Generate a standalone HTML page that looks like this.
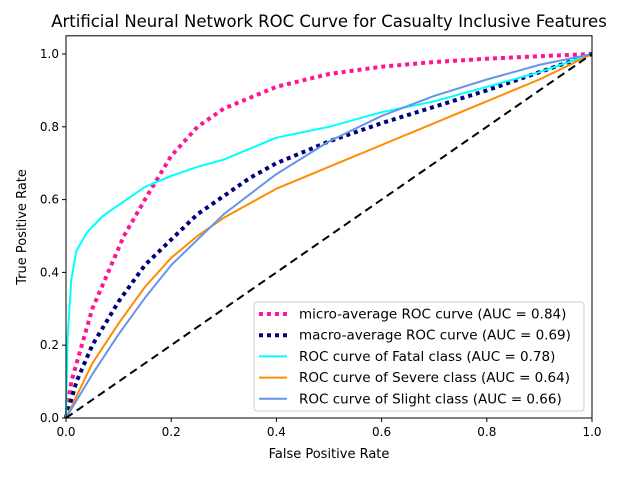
<!DOCTYPE html>
<html><head><meta charset="utf-8"><style>
body{margin:0;background:#fff;}
svg text{font-family:"DejaVu Sans","Liberation Sans",sans-serif;fill:#000;}
</style></head><body>
<svg width="640" height="476" viewBox="0 0 640 476">
<rect width="640" height="476" fill="#fff"/>
<g id="plot"></g>
<text x="329" y="27" font-size="16.5" text-anchor="middle">Artificial Neural Network ROC Curve for Casualty Inclusive Features</text>
<text x="329" y="458" font-size="13" text-anchor="middle">False Positive Rate</text>
<text transform="translate(26,227) rotate(-90)" font-size="13" text-anchor="middle">True Positive Rate</text>
</svg>
<script>
const xTicks=[0,0.2,0.4,0.6,0.8,1.0];
const yTicks=[0,0.2,0.4,0.6,0.8,1.0];
const microX=[0,0.01,0.03,0.05,0.08,0.11,0.15,0.2,0.25,0.3,0.4,0.5,0.6,0.7,0.8,0.9,1];
const microY=[0,0.1,0.2,0.3,0.4,0.5,0.6,0.72,0.8,0.85,0.91,0.945,0.965,0.978,0.987,0.994,1];
const macroX=[0,0.02,0.05,0.1,0.15,0.2,0.25,0.3,0.35,0.4,0.45,0.5,0.6,0.7,0.8,0.9,1];
const macroY=[0,0.1,0.2,0.32,0.42,0.49,0.56,0.61,0.66,0.7,0.73,0.76,0.81,0.855,0.9,0.95,1];
const fatalX=[0,0.003,0.01,0.02,0.04,0.07,0.1,0.15,0.2,0.25,0.3,0.35,0.4,0.5,0.6,0.7,0.8,0.9,1];
const fatalY=[0,0.22,0.38,0.46,0.51,0.555,0.585,0.635,0.665,0.69,0.71,0.74,0.77,0.8,0.84,0.87,0.91,0.95,1];
const severeX=[0,0.05,0.1,0.15,0.2,0.25,0.3,0.4,0.5,0.6,0.7,0.8,0.9,1];
const severeY=[0,0.15,0.26,0.36,0.44,0.5,0.55,0.63,0.69,0.75,0.81,0.87,0.93,1];
const slightX=[0,0.05,0.1,0.15,0.2,0.3,0.4,0.5,0.6,0.7,0.8,0.9,1];
const slightY=[0,0.12,0.23,0.33,0.42,0.56,0.67,0.76,0.83,0.885,0.93,0.97,1];
const legendLabels=["micro-average ROC curve (AUC = 0.84)","macro-average ROC curve (AUC = 0.69)","ROC curve of Fatal class (AUC = 0.78)","ROC curve of Severe class (AUC = 0.64)","ROC curve of Slight class (AUC = 0.66)"];

const L=66,R=592,Y0=418,Y1=54;
const sx=v=>L+(R-L)*v, sy=v=>Y0-(Y0-Y1)*v;
const NS="http://www.w3.org/2000/svg";
const g=document.getElementById('plot');
function mk(t,a,p){const e=document.createElementNS(NS,t);for(const k in a)e.setAttribute(k,a[k]);(p||g).appendChild(e);return e;}
const series=[
 {x:microX,y:microY,c:"deeppink",w:4,d:"4 4",n:"micro-average-curve"},
 {x:macroX,y:macroY,c:"navy",w:4,d:"4 4",n:"macro-average-curve"},
 {x:fatalX,y:fatalY,c:"aqua",w:2,d:"",n:"fatal-curve"},
 {x:severeX,y:severeY,c:"darkorange",w:2,d:"",n:"severe-curve"},
 {x:slightX,y:slightY,c:"cornflowerblue",w:2,d:"",n:"slight-curve"}];
series.forEach(s=>{
 const pts=s.x.map((v,i)=>sx(v).toFixed(1)+","+sy(s.y[i]).toFixed(1)).join(" ");
 const e=mk('polyline',{points:pts,fill:"none",stroke:s.c,"stroke-width":s.w,"stroke-dasharray":s.d,"stroke-linejoin":"round"});
 
 
});
const diag=mk('line',{x1:sx(0),y1:sy(0),x2:sx(1),y2:sy(1),stroke:"#000","stroke-width":2,"stroke-dasharray":"8 5"});


const fr=mk('rect',{x:L,y:35.8,width:R-L,height:Y0-35.8,fill:"none",stroke:"#000","stroke-width":1});


xTicks.forEach(v=>{
 mk('line',{x1:sx(v),y1:Y0,x2:sx(v),y2:Y0+4,stroke:"#000"});
 const t=mk('text',{x:sx(v),y:Y0+18,"font-size":12,"text-anchor":"middle"});t.textContent=v.toFixed(1);
 
 
});
yTicks.forEach(v=>{
 mk('line',{x1:L-4,y1:sy(v),x2:L,y2:sy(v),stroke:"#000"});
 const t=mk('text',{x:L-7,y:sy(v)+4,"font-size":12,"text-anchor":"end"});t.textContent=v.toFixed(1);
 
 
});
const lg=mk('g',{});


mk('rect',{x:254,y:302,width:330,height:109,rx:3,fill:"#fff","fill-opacity":0.8,stroke:"#ccc"},lg);
legendLabels.forEach((lab,i)=>{
 const y=314+i*21.2, s=series[i];
 mk('line',{x1:259,y1:y,x2:287,y2:y,stroke:s.c,"stroke-width":s.w,"stroke-dasharray":s.d},lg);
 const t=mk('text',{x:299,y:y+4.5,"font-size":13.5},lg);t.textContent=lab;
 
 
});
</script>
</body></html>
